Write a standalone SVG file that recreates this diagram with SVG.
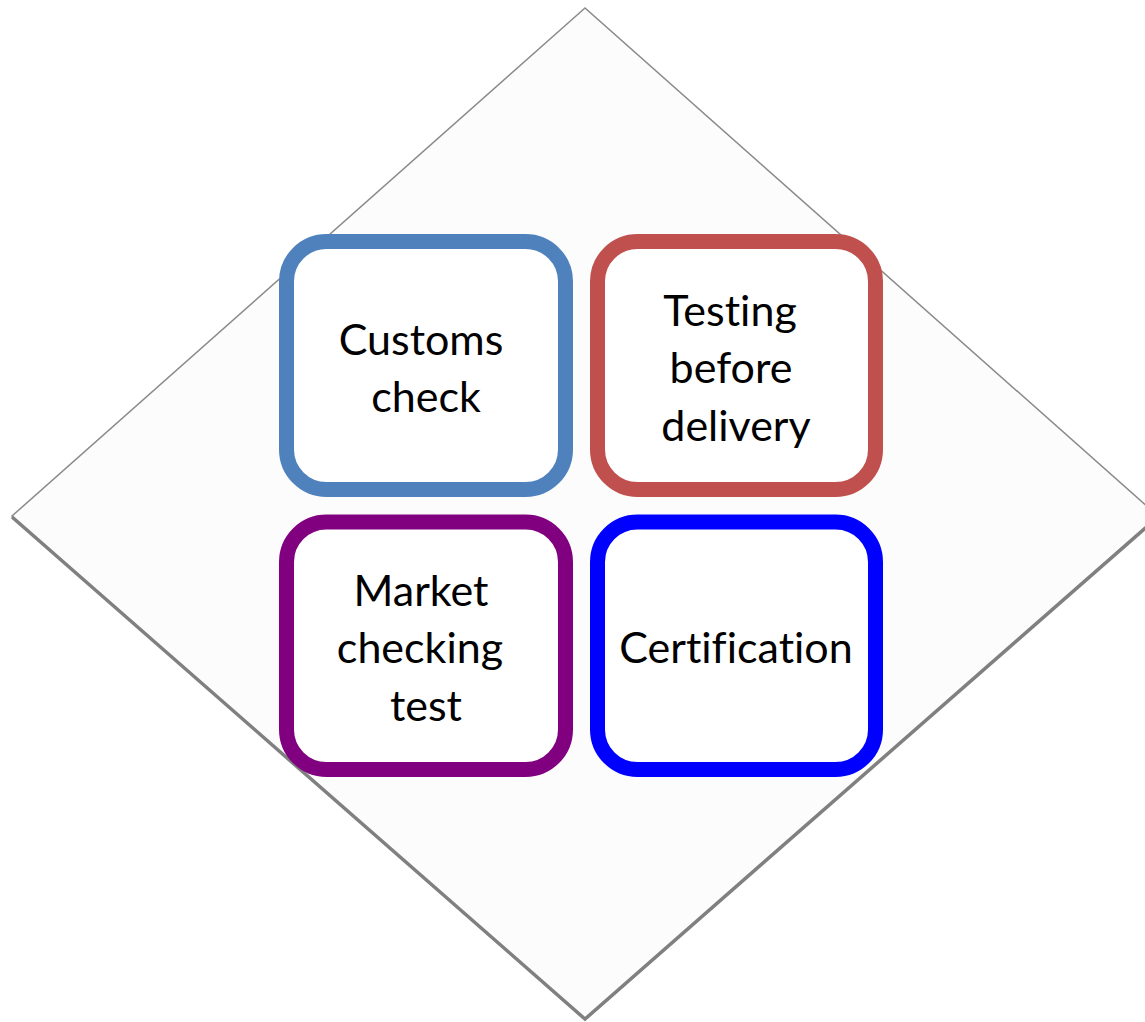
<svg xmlns="http://www.w3.org/2000/svg" width="1145" height="1022" viewBox="0 0 1145 1022">
<style>
.box{fill:#fff;stroke-width:15}
.lbl{font-family:"Lato","Open Sans","Liberation Sans",sans-serif;font-size:43px;fill:#000;text-anchor:middle;font-variant-ligatures:none}
</style>
<rect width="1145" height="1022" fill="#fff"/>
<g id="diamond">
<polygon points="585,8 12,516 585,1020 1158,516" fill="#fcfcfc" stroke="#8a8a8a" stroke-width="1.5"/>
<polyline points="12,517 585,1019 1158,517" fill="none" stroke="#808080" stroke-width="3.5"/>
</g>
<g id="customs">
<rect class="box" x="286.5" y="241.5" width="279" height="248" rx="40" stroke="#4f81bd"/>
<text class="lbl" x="421" y="355">Customs</text>
<text class="lbl" x="426" y="412">check</text>
</g>
<g id="testing">
<rect class="box" x="597.5" y="241.5" width="278" height="248" rx="40" stroke="#c0504d"/>
<text class="lbl" x="730" y="326">Testing</text>
<text class="lbl" x="731" y="383">before</text>
<text class="lbl" x="736" y="441">delivery</text>
</g>
<g id="market">
<rect class="box" x="286.5" y="522" width="279" height="247.5" rx="40" stroke="#800080"/>
<text class="lbl" x="421" y="606">Market</text>
<text class="lbl" x="420" y="663">checking</text>
<text class="lbl" x="426" y="721">test</text>
</g>
<g id="certification">
<rect class="box" x="597.5" y="522" width="278" height="247.5" rx="40" stroke="#0000ff"/>
<text class="lbl" x="736" y="663">Certification</text>
</g>
<g id="connectors"></g>
</svg>
